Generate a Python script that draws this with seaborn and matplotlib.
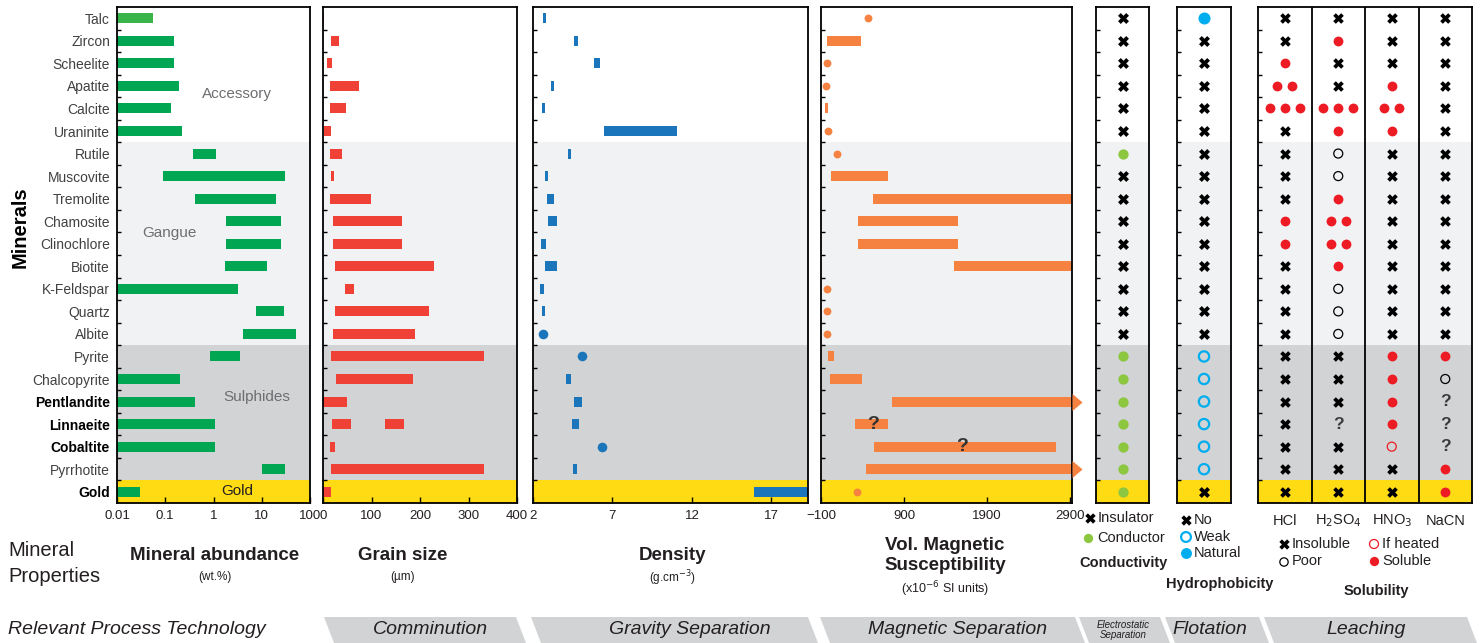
import numpy as np
import pandas as pd
import matplotlib.pyplot as plt
from matplotlib.ticker import NullLocator, FixedLocator
from matplotlib.patches import Polygon
import seaborn as sns

# ---- data ----------------------------------------------------------------
minerals = ["Talc", "Zircon", "Scheelite", "Apatite", "Calcite", "Uraninite",
            "Rutile", "Muscovite", "Tremolite", "Chamosite", "Clinochlore", "Biotite",
            "K-Feldspar", "Quartz", "Albite", "Pyrite", "Chalcopyrite", "Pentlandite",
            "Linnaeite", "Cobaltite", "Pyrrhotite", "Gold"]
bold_minerals = ["Pentlandite", "Linnaeite", "Cobaltite", "Gold"]
group_names = ["Accessory", "Gangue", "Sulphides", "Gold"]
group_sizes = [6, 9, 6, 1]

# mineral abundance (wt.%)
abund_lo = [0.01, 0.01, 0.01, 0.01, 0.01, 0.01, 0.37, 0.09, 0.42, 1.8, 1.8, 1.7,
            0.01, 7.5, 4.0, 0.83, 0.01, 0.01, 0.01, 0.01, 10, 0.01]
abund_hi = [0.056, 0.15, 0.15, 0.19, 0.13, 0.22, 1.15, 30, 20, 25, 25, 12.7,
            3.2, 29, 51, 3.5, 0.2, 0.42, 1.05, 1.05, 30, 0.03]
abund_ticks = [0.01, 0.1, 1, 10, 100]
abund_tick_labels = ["0.01", "0.1", "1", "10", "100"]

# grain size (um)
grain_lo = [0, 16, 8, 14, 14, 3, 14, 16, 14, 20, 20, 24, 45, 24, 20, 16, 26, 0, 18, 14, 16, 0]
grain_hi = [3, 34, 18, 74, 47, 16, 39, 22, 99, 163, 163, 229, 63, 219, 190, 332, 185, 49, 57, 24, 332, 16]
grain_extra_mineral = "Linnaeite"
grain_extra = (128, 167)
grain_ticks = [0, 100, 200, 300, 400]

# density (g/cm3) - equal lo/hi drawn as a point
dens_lo = [2.65, 4.56, 5.86, 3.13, 2.57, 6.47, 4.22, 2.74, 2.88, 2.96, 2.52, 2.77,
           2.46, 2.57, 2.65, 5.06, 4.10, 4.58, 4.47, 6.36, 4.53, 15.9]
dens_hi = [2.80, 4.81, 6.20, 3.32, 2.77, 11.04, 4.39, 2.96, 3.30, 3.51, 2.84, 3.51,
           2.67, 2.74, 2.65, 5.06, 4.39, 5.10, 4.89, 6.36, 4.75, 19.3]
dens_ticks = [2, 7, 12, 17]

# volume magnetic susceptibility (x1e-6 SI)
mag_lo = [470, -28, -24, -36, -52, -16, 93, 20, 527, 346, 346, 1502,
          -24, -24, -28, -16, 8, 755, 310, 539, 442, 334]
mag_hi = [470, 382, -24, -36, -19, -16, 93, 707, 2920, 1547, 1547, 2920,
          -24, -24, -28, 57, 394, 2920, 707, 2731, 2920, 334]
mag_arrow = ["Pentlandite", "Pyrrhotite"]
mag_query = ["Linnaeite", "Cobaltite"]
mag_query_x = [530, 1600]
mag_ticks = [-100, 900, 1900, 2900]

# conductivity: X insulator, C conductor
conductivity = ["X"] * 6 + ["C"] + ["X"] * 8 + ["C"] * 7
# hydrophobicity: X no, W weak, N natural
hydrophobicity = ["N"] + ["X"] * 14 + ["W"] * 6 + ["X"]
# solubility: X insoluble, 1/2/3 soluble (dots), P poor, H if heated, ? unknown
sol_names = ["HCl", "H$_2$SO$_4$", "HNO$_3$", "NaCN"]
sol_hcl = ["X", "X", "1", "2", "3", "X", "X", "X", "X", "1", "1", "X",
           "X", "X", "X", "X", "X", "X", "X", "X", "X", "X"]
sol_h2so4 = ["X", "1", "X", "X", "3", "1", "P", "P", "1", "2", "2", "1",
             "P", "P", "P", "X", "X", "X", "?", "X", "X", "X"]
sol_hno3 = ["X", "X", "X", "1", "2", "1", "X", "X", "X", "X", "X", "X",
            "X", "X", "X", "1", "1", "1", "1", "H", "X", "X"]
sol_nacn = ["X"] * 15 + ["1", "P", "?", "?", "?", "1", "1"]

# ---- style ----------------------------------------------------------------
sns.set_theme(style="white")
plt.rcParams["font.family"] = ["Liberation Sans", "DejaVu Sans"]

GREEN, RED, BLUE, ORANGE = "#00a651", "#ef4136", "#1b75bb", "#f58240"
BAND_COLORS = ["white", "#f1f2f3", "#d1d3d4", "#ffdb14"]
TXT = "#231f20"

W, H = 1482, 643
fig = plt.figure(figsize=(W / 100, H / 100), dpi=100)
n = len(minerals)
y = np.arange(n)
edges = np.cumsum([0] + group_sizes) - 0.5
bar_h = 0.44


def panel(x0, x1):
    ax = fig.add_axes([x0 / W, 1 - 503 / H, (x1 - x0) / W, 496 / H])
    for lo, hi, c in zip(edges[:-1], edges[1:], BAND_COLORS):
        ax.axhspan(lo, hi, color=c, lw=0, zorder=0)
    for s in ax.spines.values():
        s.set_visible(True)
        s.set_color("black")
        s.set_linewidth(1.3)
    ax.set_yticks(y)
    ax.set_yticklabels([])
    ax.yaxis.set_minor_locator(FixedLocator(np.arange(0.5, n - 1, 1)))
    ax.tick_params(axis="y", which="major", length=0, left=True)
    ax.tick_params(axis="y", which="minor", direction="in", length=3, width=1,
                   color="black", left=True)
    ax.tick_params(axis="x", which="major", direction="in", length=4, width=1,
                   color="black", bottom=True, labelsize=9.5, labelcolor=TXT, pad=5)
    ax.set_xlabel("")
    ax.set_ylabel("")
    return ax


def finish(ax, xlim):
    ax.set_xlim(*xlim)
    ax.set_ylim(n - 0.5, -0.5)
    ax.set_xlabel("")
    ax.set_ylabel("")


# mineral abundance
ax_ab = panel(117, 310)
ax_ab.set_xscale("log")
lo, hi = np.array(abund_lo), np.array(abund_hi)
ab_colors = ["#39b54a"] + [GREEN] * (n - 1)
ax_ab.barh(y, hi - lo, left=lo, height=bar_h, color=ab_colors, linewidth=0, zorder=2)
ax_ab.xaxis.set_minor_locator(NullLocator())
ax_ab.set_xticks(abund_ticks)
ax_ab.set_xticklabels(abund_tick_labels)
ax_ab.set_yticks(y)
ax_ab.set_yticklabels(minerals, fontsize=10)
ax_ab.tick_params(axis="y", which="major", pad=5)
for lbl in ax_ab.get_yticklabels():
    if lbl.get_text() in bold_minerals:
        lbl.set_fontweight("bold")
        lbl.set_color("black")
    else:
        lbl.set_color("#414042")
finish(ax_ab, (0.01, 100))

# grain size
ax_gs = panel(323, 517)
lo, hi = np.array(grain_lo), np.array(grain_hi)
ax_gs.barh(y, hi - lo, left=lo, height=bar_h, color=RED, linewidth=0, zorder=2)
k = minerals.index(grain_extra_mineral)
ax_gs.barh(k, grain_extra[1] - grain_extra[0], left=grain_extra[0], height=bar_h,
           color=RED, linewidth=0, zorder=2)
ax_gs.set_xticks(grain_ticks)
finish(ax_gs, (0, 400))

# density
ax_de = panel(533, 808)
lo, hi = np.array(dens_lo), np.array(dens_hi)
pt = lo == hi
ax_de.barh(y[~pt], (hi - lo)[~pt], left=lo[~pt], height=bar_h, color=BLUE,
           linewidth=0, zorder=2)
sns.scatterplot(x=lo[pt], y=y[pt], ax=ax_de, s=48, color=BLUE, linewidth=0, zorder=3)
ax_de.set_xticks(dens_ticks)
finish(ax_de, (2, 19.3))

# magnetic susceptibility
ax_mg = panel(821, 1072)
lo, hi = np.array(mag_lo), np.array(mag_hi)
pt = lo == hi
ax_mg.barh(y[~pt], (hi - lo)[~pt], left=lo[~pt], height=bar_h, color=ORANGE,
           linewidth=0, zorder=2)
sns.scatterplot(x=lo[pt], y=y[pt], ax=ax_mg, s=32, color=ORANGE, linewidth=0, zorder=3)
arrow_rows = [minerals.index(m) for m in mag_arrow]
ax_mg.scatter(hi[arrow_rows], arrow_rows, marker=[(0, 0.85), (0, -0.85), (1, 0)],
              s=210, color=ORANGE, linewidth=0, clip_on=False, zorder=3)
for m, qx in zip(mag_query, mag_query_x):
    ax_mg.text(qx, minerals.index(m), "?", ha="center", va="center",
               fontsize=14, fontweight="bold", color="#333333", zorder=4)
ax_mg.set_xticks(mag_ticks)
finish(ax_mg, (-100, 2920))

# conductivity
ax_co = panel(1096, 1149)
cd = pd.DataFrame({"x": 0.0, "y": y, "kind": conductivity})
sns.scatterplot(data=cd[cd.kind == "X"], x="x", y="y", ax=ax_co, marker="X",
                s=62, color="black", linewidth=0, zorder=3)
sns.scatterplot(data=cd[cd.kind == "C"], x="x", y="y", ax=ax_co,
                s=55, color="#8dc63f", linewidth=0, zorder=3)
ax_co.set_xticks([])
finish(ax_co, (-1, 1))

# hydrophobicity
ax_hy = panel(1177, 1231)
hd = pd.DataFrame({"x": 0.0, "y": y, "kind": hydrophobicity})
sns.scatterplot(data=hd[hd.kind == "X"], x="x", y="y", ax=ax_hy, marker="X",
                s=62, color="black", linewidth=0, zorder=3)
sns.scatterplot(data=hd[hd.kind == "N"], x="x", y="y", ax=ax_hy,
                s=75, color="#00aeef", linewidth=0, zorder=3)
sns.scatterplot(data=hd[hd.kind == "W"], x="x", y="y", ax=ax_hy,
                s=55, color="none", edgecolor="#00aeef", linewidth=1.6, zorder=3)
ax_hy.set_xticks([])
finish(ax_hy, (-1, 1))

# solubility
ax_so = panel(1258, 1472)
recs = []
for ci, col in enumerate([sol_hcl, sol_h2so4, sol_hno3, sol_nacn]):
    for ri, code in enumerate(col):
        if code in "123":
            m = int(code)
            for off in (np.arange(m) - (m - 1) / 2) * 0.28:
                recs.append((ci + 0.5 + off, ri, "S"))
        else:
            recs.append((ci + 0.5, ri, code))
sd = pd.DataFrame(recs, columns=["x", "y", "kind"])
sns.scatterplot(data=sd[sd.kind == "X"], x="x", y="y", ax=ax_so, marker="X",
                s=58, color="black", linewidth=0, zorder=3)
sns.scatterplot(data=sd[sd.kind == "S"], x="x", y="y", ax=ax_so,
                s=50, color="#ed1c24", linewidth=0, zorder=3)
sns.scatterplot(data=sd[sd.kind == "P"], x="x", y="y", ax=ax_so,
                s=42, color="none", edgecolor="black", linewidth=0.9, zorder=3)
sns.scatterplot(data=sd[sd.kind == "H"], x="x", y="y", ax=ax_so,
                s=42, color="none", edgecolor="#ed1c24", linewidth=0.9, zorder=3)
for _, r in sd[sd.kind == "?"].iterrows():
    ax_so.text(r.x, r.y, "?", ha="center", va="center", fontsize=12.5,
               fontweight="bold", color="#3a3a3a", zorder=4)
for xv in (1, 2, 3):
    ax_so.axvline(xv, color="black", lw=1.3, zorder=2)
ax_so.set_xticks([])
finish(ax_so, (0, 4))

# ---- overlay for annotations (pixel coordinates) ---------------------------
ov = fig.add_axes([0, 0, 1, 1])
ov.set_xlim(0, W)
ov.set_ylim(H, 0)
ov.axis("off")
ov.patch.set_visible(False)

GREY = "#6d6e71"
for name, (gx, gy) in zip(group_names, [(237, 94), (169, 233), (257, 397), (237, 491)]):
    ov.text(gx, gy, name, ha="center", va="center", fontsize=11,
            color=TXT if name == "Gold" else GREY)

ov.text(20, 227, "Minerals", rotation=90, ha="center", va="center",
        fontsize=14.5, fontweight="bold", color="black")

ov.text(8, 551, "Mineral", ha="left", va="center", fontsize=14.5, color=TXT)
ov.text(8, 577, "Properties", ha="left", va="center", fontsize=14.5, color=TXT)

titles = [("Mineral abundance", "(wt.%)", 215, 556, 577),
          ("Grain size", "(µm)", 403, 556, 577),
          ("Density", "(g.cm$^{-3}$)", 673, 556, 578)]
for t, sub, tx, ty, sy in titles:
    ov.text(tx, ty, t, ha="center", va="center", fontsize=13.5, fontweight="bold", color=TXT)
    ov.text(tx, sy, sub, ha="center", va="center", fontsize=8.5, color=TXT)
ov.text(945, 545, "Vol. Magnetic", ha="center", va="center", fontsize=13.5,
        fontweight="bold", color=TXT)
ov.text(945, 566, "Susceptibility", ha="center", va="center", fontsize=13.5,
        fontweight="bold", color=TXT)
ov.text(945, 589, "(x10$^{-6}$ SI units)", ha="center", va="center", fontsize=9, color=TXT)

# conductivity legend
ov.scatter([1090], [518], marker="X", s=55, color="black", linewidth=0)
ov.text(1098, 518, "Insulator", va="center", fontsize=10.5, color=TXT)
ov.scatter([1088], [538], s=45, color="#8dc63f", linewidth=0)
ov.text(1097, 538, "Conductor", va="center", fontsize=10.5, color=TXT)
ov.text(1124, 563, "Conductivity", ha="center", va="center", fontsize=10.5,
        fontweight="bold", color=TXT)

# hydrophobicity legend
ov.scatter([1186], [520], marker="X", s=55, color="black", linewidth=0)
ov.text(1194, 520, "No", va="center", fontsize=10.5, color=TXT)
ov.scatter([1186], [537], s=50, facecolor="none", edgecolor="#00aeef", linewidth=1.6)
ov.text(1194, 537, "Weak", va="center", fontsize=10.5, color=TXT)
ov.scatter([1186], [553], s=62, color="#00aeef", linewidth=0)
ov.text(1194, 553, "Natural", va="center", fontsize=10.5, color=TXT)
ov.text(1220, 584, "Hydrophobicity", ha="center", va="center", fontsize=10.5,
        fontweight="bold", color=TXT)

# solubility legend
for ci, name in enumerate(sol_names):
    ov.text(1258 + (ci + 0.5) * 53.5, 521, name, ha="center", va="center",
            fontsize=10.5, color=TXT)
ov.scatter([1284], [544], marker="X", s=55, color="black", linewidth=0)
ov.text(1292, 544, "Insoluble", va="center", fontsize=10.5, color=TXT)
ov.scatter([1284], [562], s=36, facecolor="none", edgecolor="black", linewidth=0.9)
ov.text(1292, 561, "Poor", va="center", fontsize=10.5, color=TXT)
ov.scatter([1374], [544], s=42, facecolor="none", edgecolor="#ed1c24", linewidth=0.9)
ov.text(1382, 544, "If heated", va="center", fontsize=10.5, color=TXT)
ov.scatter([1374], [561], s=45, color="#ed1c24", linewidth=0)
ov.text(1382, 561, "Soluble", va="center", fontsize=10.5, color=TXT)
ov.text(1376, 591, "Solubility", ha="center", va="center", fontsize=10.5,
        fontweight="bold", color=TXT)

# process technology chevrons
ov.text(8, 629, "Relevant Process Technology", ha="left", va="center",
        fontsize=14, style="italic", color=TXT)
chev_left = [324, 531, 820, 1079, 1165, 1264]
chev_right = [516, 808, 1075, 1160, 1259, 1467]
chev_text = ["Comminution", "Gravity Separation", "Magnetic Separation",
             "Electrostatic\nSeparation", "Flotation", "Leaching"]
chev_tx = [430, 690, 958, 1123, 1210, 1366]
for l, r, t, tx in zip(chev_left, chev_right, chev_text, chev_tx):
    ov.add_patch(Polygon([(l, 617), (r, 617), (r + 10, 643), (l + 10, 643)],
                         closed=True, color="#d1d3d4", lw=0, zorder=0))
    if "\n" in t:
        ov.text(tx, 630, t, ha="center", va="center", fontsize=7, style="italic",
                color=TXT, linespacing=1.1)
    else:
        ov.text(tx, 630, t, ha="center", va="center", fontsize=14, style="italic",
                color=TXT)

fig.savefig("out.png", dpi=100)
